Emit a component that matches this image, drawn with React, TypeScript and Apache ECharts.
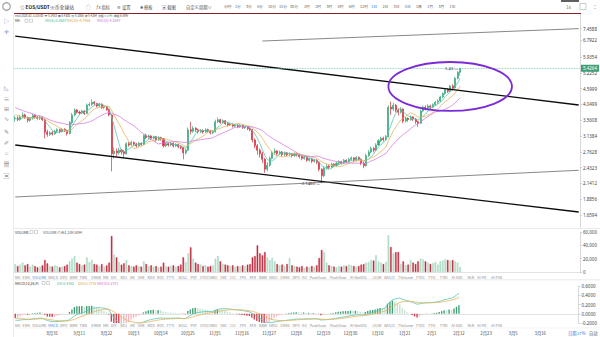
import React, { useEffect, useRef } from 'react';
import * as echarts from 'echarts';

// ---------------- data ----------------
const startDateUTC = Date.UTC(2019, 7, 16); // first candle: 2019-08-16
const categoryCount = 229; // data days + empty future days on the axis

const dateTickLabels = ['8月31', '9月11', '9月22', '10月3', '10月14', '10月25', '11月5', '11月16', '11月27', '12月8', '12月19', '12月30', '1月10', '1月21', '2月1', '2月12', '2月23', '3月5', '3月16'];

const priceTicks = [1.6594, 1.8856, 2.1412, 2.4323, 2.7628, 3.1384, 3.5608, 4.0499, 4.5999, 5.2252, 5.9354, 6.7922, 7.4588];
const priceAxisMin = 1.5064;
const priceAxisMax = 8.394;

// closes before the first visible candle (only feed MA / MACD)
const warmupCloses = [
  4.05, 4.0, 3.95, 4.05, 4.1, 4.2, 4.25, 4.15, 4.1, 4.2,
  4.3, 4.35, 4.25, 4.3, 4.2, 4.1, 4.05, 4.15, 4.1, 4.2,
  3.95, 4.0, 3.9, 3.85, 3.8, 3.7, 3.75, 3.65, 3.5, 3.6,
];

// [open, close, low, high]
const candles: number[][] = [
  [3.60, 3.62, 3.52, 3.70], [3.62, 3.58, 3.54, 3.68], [3.58, 3.66, 3.55, 3.72], [3.66, 3.72, 3.62, 3.80], [3.72, 3.64, 3.60, 3.76],
  [3.64, 3.56, 3.50, 3.67], [3.56, 3.62, 3.52, 3.66], [3.62, 3.70, 3.58, 3.75], [3.70, 3.66, 3.62, 3.74], [3.66, 3.62, 3.58, 3.69],
  [3.62, 3.65, 3.57, 3.70], [3.65, 3.58, 3.54, 3.68], [3.58, 3.24, 3.08, 3.60], [3.24, 3.18, 3.12, 3.30], [3.18, 3.22, 3.14, 3.26],
  [3.22, 3.19, 3.15, 3.27], [3.19, 3.26, 3.17, 3.30], [3.26, 3.30, 3.22, 3.34], [3.30, 3.25, 3.21, 3.33], [3.25, 3.31, 3.23, 3.35],
  [3.31, 3.28, 3.24, 3.34], [3.28, 3.20, 3.15, 3.30], [3.20, 3.50, 3.18, 3.54], [3.50, 3.72, 3.46, 3.78], [3.72, 3.87, 3.68, 3.92],
  [3.87, 3.80, 3.76, 3.90], [3.80, 3.78, 3.72, 3.85], [3.78, 3.84, 3.74, 3.88], [3.84, 3.76, 3.72, 3.87], [3.76, 4.03, 3.74, 4.08],
  [4.03, 4.05, 3.98, 4.12], [4.05, 4.12, 4.00, 4.22], [4.12, 4.08, 4.02, 4.16], [4.08, 4.00, 3.95, 4.10], [4.00, 4.06, 3.96, 4.10],
  [4.06, 3.95, 3.90, 4.08], [3.95, 3.98, 3.90, 4.02], [3.98, 3.88, 3.84, 4.00], [3.88, 3.72, 3.68, 3.90], [3.72, 2.72, 2.36, 3.74],
  [2.72, 2.78, 2.62, 2.86], [2.78, 2.74, 2.66, 2.84], [2.74, 2.80, 2.70, 2.85], [2.80, 2.76, 2.70, 2.83], [2.76, 2.72, 2.64, 2.80],
  [2.72, 2.95, 2.70, 2.98], [2.95, 2.92, 2.88, 2.99], [2.92, 2.98, 2.90, 3.02], [2.98, 2.94, 2.90, 3.00], [2.94, 2.90, 2.86, 2.97],
  [2.90, 2.96, 2.88, 2.99], [2.96, 2.93, 2.90, 2.98], [2.93, 3.15, 2.92, 3.18], [3.15, 3.10, 3.06, 3.20], [3.10, 3.14, 3.06, 3.18],
  [3.14, 3.08, 3.04, 3.16], [3.08, 3.12, 3.05, 3.15], [3.12, 3.04, 3.00, 3.14], [3.04, 3.10, 3.02, 3.13], [3.10, 3.07, 3.02, 3.12],
  [3.07, 2.90, 2.86, 3.09], [2.90, 2.95, 2.87, 2.98], [2.95, 2.92, 2.88, 2.97], [2.92, 2.96, 2.89, 2.99], [2.96, 2.90, 2.86, 2.98],
  [2.90, 2.93, 2.87, 2.96], [2.93, 2.88, 2.84, 2.95], [2.88, 2.86, 2.82, 2.91], [2.86, 2.74, 2.60, 2.88], [2.74, 2.80, 2.70, 2.84],
  [2.80, 3.30, 2.78, 3.36], [3.30, 3.26, 3.18, 3.52], [3.26, 3.34, 3.22, 3.40], [3.34, 3.30, 3.24, 3.37], [3.30, 3.25, 3.20, 3.33],
  [3.25, 3.28, 3.21, 3.32], [3.28, 3.24, 3.20, 3.31], [3.24, 3.30, 3.22, 3.34], [3.30, 3.27, 3.23, 3.33], [3.27, 3.22, 3.18, 3.30],
  [3.22, 3.25, 3.19, 3.29], [3.25, 3.52, 3.23, 3.58], [3.52, 3.58, 3.48, 3.64], [3.58, 3.50, 3.46, 3.61], [3.50, 3.55, 3.47, 3.59],
  [3.55, 3.47, 3.43, 3.57], [3.47, 3.43, 3.39, 3.50], [3.43, 3.45, 3.40, 3.49], [3.45, 3.40, 3.36, 3.47], [3.40, 3.43, 3.37, 3.46],
  [3.43, 3.38, 3.34, 3.45], [3.38, 3.42, 3.35, 3.45], [3.42, 3.36, 3.32, 3.44], [3.36, 3.38, 3.32, 3.41], [3.38, 3.33, 3.29, 3.40],
  [3.33, 3.30, 3.26, 3.36], [3.30, 3.04, 2.98, 3.32], [3.04, 2.90, 2.84, 3.08], [2.90, 2.80, 2.70, 2.94], [2.80, 2.72, 2.64, 2.84],
  [2.72, 2.60, 2.52, 2.76], [2.60, 2.40, 2.33, 2.63], [2.40, 2.48, 2.36, 2.54], [2.48, 2.62, 2.45, 2.66], [2.62, 2.74, 2.60, 2.78],
  [2.74, 2.78, 2.70, 2.84], [2.78, 2.72, 2.68, 2.80], [2.72, 2.76, 2.69, 2.79], [2.76, 2.70, 2.66, 2.78], [2.70, 2.74, 2.67, 2.77],
  [2.74, 2.70, 2.66, 2.76], [2.70, 2.72, 2.66, 2.75], [2.72, 2.68, 2.64, 2.74], [2.68, 2.72, 2.65, 2.75], [2.72, 2.70, 2.66, 2.74],
  [2.70, 2.66, 2.62, 2.72], [2.66, 2.62, 2.58, 2.68], [2.62, 2.65, 2.59, 2.68], [2.65, 2.58, 2.55, 2.67], [2.58, 2.61, 2.55, 2.64],
  [2.61, 2.56, 2.52, 2.63], [2.56, 2.58, 2.53, 2.61], [2.58, 2.54, 2.50, 2.60], [2.54, 2.40, 2.36, 2.56], [2.40, 2.28, 2.146, 2.42],
  [2.28, 2.42, 2.25, 2.46], [2.42, 2.46, 2.39, 2.50], [2.46, 2.44, 2.40, 2.49], [2.44, 2.50, 2.42, 2.53], [2.50, 2.47, 2.44, 2.52],
  [2.47, 2.52, 2.45, 2.55], [2.52, 2.55, 2.49, 2.58], [2.55, 2.52, 2.49, 2.57], [2.52, 2.58, 2.50, 2.61], [2.58, 2.55, 2.52, 2.60],
  [2.55, 2.60, 2.53, 2.63], [2.60, 2.63, 2.57, 2.66], [2.63, 2.58, 2.55, 2.65], [2.58, 2.64, 2.56, 2.67], [2.64, 2.60, 2.57, 2.66],
  [2.60, 2.52, 2.48, 2.62], [2.52, 2.47, 2.42, 2.55], [2.47, 2.68, 2.45, 2.72], [2.68, 2.76, 2.65, 2.80], [2.76, 2.84, 2.73, 2.88],
  [2.84, 2.80, 2.75, 2.87], [2.80, 2.92, 2.78, 2.96], [2.92, 3.02, 2.90, 3.06], [3.02, 3.08, 2.98, 3.12], [3.08, 3.05, 3.00, 3.12],
  [3.05, 3.12, 3.02, 3.16], [3.12, 3.96, 3.10, 4.02], [3.96, 3.90, 3.72, 4.14], [3.90, 4.02, 3.84, 4.10], [4.02, 3.86, 3.80, 4.06],
  [3.86, 3.80, 3.70, 3.92], [3.80, 3.90, 3.76, 3.96], [3.90, 3.54, 3.48, 3.92], [3.54, 3.62, 3.50, 3.66], [3.62, 3.58, 3.52, 3.65],
  [3.58, 3.66, 3.55, 3.70], [3.66, 3.60, 3.54, 3.68], [3.60, 3.52, 3.46, 3.63], [3.52, 3.48, 3.38, 3.55], [3.48, 3.84, 3.46, 3.88],
  [3.84, 3.96, 3.80, 4.00], [3.96, 3.92, 3.86, 4.02], [3.92, 4.00, 3.88, 4.05], [4.00, 3.96, 3.90, 4.04], [3.96, 4.04, 3.93, 4.08],
  [4.04, 4.12, 4.00, 4.16], [4.12, 4.16, 4.06, 4.22], [4.16, 4.30, 4.12, 4.34], [4.30, 4.42, 4.26, 4.46], [4.42, 4.56, 4.38, 4.60],
  [4.56, 4.50, 4.44, 4.62], [4.50, 4.70, 4.46, 4.74], [4.70, 4.62, 4.56, 4.76], [4.62, 5.00, 4.60, 5.06], [5.00, 5.2433, 4.96, 5.30],
  [5.2433, 5.4264, 5.1066, 5.43],
];

// volume in thousands
const volumes = [
  12000, 9000, 11000, 14000, 10000, 12000, 8000, 11000, 9000, 7000,
  8000, 10000, 18000, 13000, 9000, 8000, 10000, 9000, 7000, 8000,
  9000, 11000, 16000, 20000, 24000, 14000, 12000, 10000, 11000, 22000,
  15000, 18000, 12000, 11000, 9000, 12000, 8000, 10000, 14000, 54000,
  26000, 22000, 15000, 11000, 13000, 18000, 10000, 9000, 8000, 10000,
  9000, 8000, 16000, 12000, 9000, 10000, 8000, 9000, 7000, 8000,
  14000, 9000, 8000, 9000, 10000, 8000, 9000, 11000, 22000, 15000,
  28000, 37000, 20000, 14000, 12000, 11000, 9000, 10000, 8000, 9000,
  10000, 20000, 24000, 16000, 12000, 11000, 10000, 9000, 10000, 8000,
  9000, 8000, 10000, 9000, 11000, 12000, 22000, 24000, 40000, 28000,
  25000, 30000, 22000, 18000, 21000, 16000, 12000, 10000, 11000, 9000,
  12000, 21000, 10000, 9000, 8000, 7000, 9000, 6000, 8000, 7000,
  9000, 8000, 10000, 21000, 33000, 30000, 14000, 10000, 9000, 8000,
  7000, 9000, 8000, 10000, 9000, 11000, 10000, 9000, 8000, 9000,
  11000, 12000, 14000, 15000, 18000, 17000, 25000, 16000, 14000, 12000,
  15000, 55000, 37500, 28000, 30000, 30000, 12000, 16000, 10000, 11000,
  18000, 14000, 12000, 16000, 20000, 19000, 16000, 14000, 12000, 13000,
  15000, 11000, 16000, 17000, 19000, 18000, 17000, 18000, 16000, 14000, 7461,
];

// user-drawn trend lines: [categoryIndex, price] ends
const trendLineEnds = [
  { from: [0, 7.02], to: [228, 4.03], kind: 'thick' },
  { from: [0, 2.92], to: [228, 1.70], kind: 'thick' },
  { from: [100, 6.75], to: [228, 7.4588], kind: 'thin' },
  { from: [0, 1.919], to: [228, 2.38], kind: 'thin' },
];
// purple ellipse annotation bounds
const highlightZone = { fromIdx: 151, toIdx: 201, top: 5.7, bottom: 3.84 };

const infoLine = { time: '2020-02-11 08:00', open: '5.2433', high: '5.4300', low: '5.1066', close: '5.4264', change: '3.47%', amplitude: '6.68%' };
const maLabels = ['MA(5):5.0687', 'MA(10):4.7466', 'MA(20):4.3547'];
const volumeLabel = 'VOLUME:7,461,109.5894';
const macdLabels = ['DIF:0.4362', 'DEA:0.3736', 'MACD:0.2371'];

const minutePeriods = ['分时', '1分', '3分', '5分', '10分', '15分', '30分'];
const longPeriods = ['1时', '2时', '3时', '4时', '6时', '12时', '1日', '2日', '3日', '5日', '1周', '1月', '3月', '1年'];
const indicatorButtons = ['MA', 'EMA', 'VOLUME', 'MACD', 'DPO', 'BRM', 'TRIX', 'EMAB', 'MR', 'DIV', 'KDJ', 'AR', 'SAR', 'KDO', 'ROC', 'FTTI', 'BOLL', 'PSY', 'STOCHRSI', 'SRC', 'CCI', 'FPS', 'ATR', 'BBW', 'SKDJ', 'EMAS', 'DPO', 'AO', 'PushScan', 'PushSlow', 'AI-NetVOL', 'LSUR', 'BAS21', 'TVolume', 'FTD1', 'TTSI', 'TTRI', 'AI-EB1', 'RLR', 'AI-PD', 'AI-FOE'];

// ---------------- helpers ----------------
const FONT = '"Noto Sans CJK SC", "Noto Sans", sans-serif';
const UP = '#36a97a';
const DOWN = '#d6303f';

function buildCategories(): string[] {
  const out: string[] = [];
  for (let i = 0; i < categoryCount; i++) {
    const d = new Date(startDateUTC + i * 86400000);
    out.push(`${d.getUTCMonth() + 1}月${d.getUTCDate()}`);
  }
  return out;
}

function sma(arr: number[], n: number, offset: number) {
  const res: (number | null)[] = [];
  for (let i = offset; i < arr.length; i++) {
    if (i < n - 1) { res.push(null); continue; }
    let s = 0;
    for (let k = i - n + 1; k <= i; k++) s += arr[k];
    res.push(Math.log(s / n));
  }
  return res;
}

function ema(arr: number[], n: number) {
  const out: number[] = [];
  arr.forEach((v, i) => {
    out.push(i === 0 ? v : (2 * v + (n - 1) * out[i - 1]) / (n + 1));
  });
  return out;
}

export default function App() {
  const ref = useRef<HTMLDivElement>(null);

  useEffect(() => {
    if (!ref.current) return;
    const chart = echarts.init(ref.current, undefined, { renderer: 'svg' });

    const cats = buildCategories();
    const tickSet = new Set(dateTickLabels);
    const closes = candles.map((c) => c[1]);
    const allCloses = warmupCloses.concat(closes);
    const off = warmupCloses.length;

    const ma5 = sma(allCloses, 5, off);
    const ma10 = sma(allCloses, 10, off);
    const ma20 = sma(allCloses, 20, off);

    const e12 = ema(allCloses, 12);
    const e26 = ema(allCloses, 26);
    const difAll = e12.map((v, i) => v - e26[i]);
    const deaAll = ema(difAll, 9);
    const dif = difAll.slice(off);
    const dea = deaAll.slice(off);
    const hist = dif.map((v, i) => 2 * (v - dea[i]));

    const lnCandles = candles.map((c) => c.map((v) => Math.log(v)));
    const volData = volumes.map((v, i) => ({
      value: v,
      itemStyle: { color: candles[i][1] >= candles[i][0] ? '#bfe4d1' : '#c42a3e', borderColor: candles[i][1] >= candles[i][0] ? '#8fcfb0' : '#c42a3e', borderWidth: 0.4 },
    }));
    const histData = hist.map((v, i) => {
      const prev = i > 0 ? hist[i - 1] : 0;
      let color;
      if (v >= 0) color = v >= prev ? '#3f9d72' : '#bfe3cf';
      else color = v <= prev ? '#d23a4c' : '#f2b8c2';
      return { value: v, itemStyle: { color } };
    });

    let hiIdx = 0, loIdx = 0;
    candles.forEach((c, i) => {
      if (c[3] > candles[hiIdx][3]) hiIdx = i;
      if (c[2] < candles[loIdx][2]) loIdx = i;
    });
    const last = candles[candles.length - 1];
    const lastVol = volumes[volumes.length - 1];

    const priceTickLn = priceTicks.map((p) => Math.log(p));
    const priceFmt = (v: number) => {
      let best = 0;
      priceTickLn.forEach((t, i) => { if (Math.abs(t - v) < Math.abs(priceTickLn[best] - v)) best = i; });
      return priceTicks[best].toFixed(4);
    };

    const gridL = 14, gridR = 19;
    const axisLabelBase = { fontSize: 4.5, color: '#444', fontFamily: 'Noto Sans', margin: 3 };

    const trendMark = trendLineEnds.map((t) => [
      {
        coord: [t.from[0], Math.log(t.from[1])],
        lineStyle: t.kind === 'thick' ? { color: '#0c0c0c', width: 1.4, type: 'solid' } : { color: '#6a6a6a', width: 0.8, type: 'solid' },
        label: { show: false },
      },
      { coord: [t.to[0], Math.log(t.to[1])] },
    ]);

    const option: any = {
      animation: false,
      backgroundColor: '#ffffff',
      grid: [
        { left: gridL, right: gridR, top: 14, height: 213 },
        { left: gridL, right: gridR, top: 232, height: 40 },
        { left: gridL, right: gridR, top: 286, height: 37 },
      ],
      xAxis: [0, 1, 2].map((g) => ({
        gridIndex: g,
        type: 'category',
        data: cats,
        boundaryGap: true,
        axisLine: { show: g !== 0, lineStyle: { color: '#dcdcdc', width: 0.8 } },
        axisTick: { show: false },
        splitLine: { show: false },
        axisLabel: g === 2
          ? { show: true, interval: (_i: number, v: string) => tickSet.has(v), fontSize: 4.3, color: '#444', fontFamily: FONT, margin: 8 }
          : { show: false },
      })),
      yAxis: [
        {
          gridIndex: 0, type: 'value', position: 'right', min: Math.log(priceAxisMin), max: Math.log(priceAxisMax), scale: true,
          axisLine: { show: true, lineStyle: { color: '#cfcfcf', width: 0.8 } },
          axisTick: { show: true, length: 2, lineStyle: { color: '#cfcfcf' }, customValues: priceTickLn },
          splitLine: { show: false },
          axisLabel: { ...axisLabelBase, customValues: priceTickLn, formatter: priceFmt },
        },
        {
          gridIndex: 1, type: 'value', position: 'right', min: 0, max: 60000, interval: 20000,
          axisLine: { show: true, lineStyle: { color: '#cfcfcf', width: 0.8 } },
          axisTick: { show: true, length: 2, lineStyle: { color: '#cfcfcf' } },
          splitLine: { show: false },
          axisLabel: { ...axisLabelBase, formatter: (v: number) => v.toLocaleString('en-US') },
        },
        {
          gridIndex: 2, type: 'value', position: 'right', min: -0.2, max: 0.6, interval: 0.2,
          axisLine: { show: true, lineStyle: { color: '#cfcfcf', width: 0.8 } },
          axisTick: { show: true, length: 2, lineStyle: { color: '#cfcfcf' } },
          splitLine: { show: false },
          axisLabel: { ...axisLabelBase, formatter: (v: number) => v.toFixed(4) },
        },
      ],
      series: [
        {
          type: 'candlestick', xAxisIndex: 0, yAxisIndex: 0, data: lnCandles, barWidth: '62%',
          itemStyle: { color: UP, color0: DOWN, borderColor: UP, borderColor0: DOWN, borderWidth: 0.7 },
          markLine: {
            silent: true, symbol: ['none', 'none'], animation: false,
            label: { show: false },
            data: [
              ...trendMark,
              {
                yAxis: Math.log(last[1]),
                lineStyle: { color: '#6cc3a8', width: 0.8, type: 'dotted' },
                label: {
                  show: true, position: 'end', formatter: last[1].toFixed(4), distance: 1,
                  backgroundColor: '#3f9f78', color: '#fff', fontSize: 4.5, padding: [1, 2], fontFamily: 'Noto Sans',
                },
              },
            ],
          },
          markPoint: {
            silent: true, symbol: 'circle', symbolSize: 1, itemStyle: { color: 'rgba(0,0,0,0)' },
            data: [
              { coord: [hiIdx, Math.log(candles[hiIdx][3])], label: { show: true, position: 'left', distance: 1, formatter: `${candles[hiIdx][3].toFixed(2)} —`, fontSize: 4.2, color: '#333', fontFamily: 'Noto Sans' } },
              { coord: [loIdx, Math.log(candles[loIdx][2])], label: { show: true, position: 'left', distance: 1, formatter: `${candles[loIdx][2].toFixed(4)} —`, fontSize: 4.2, color: '#333', fontFamily: 'Noto Sans' } },
            ],
          },
        },
        { type: 'line', xAxisIndex: 0, yAxisIndex: 0, data: ma5, showSymbol: false, lineStyle: { color: '#5cc4b3', width: 0.8 } },
        { type: 'line', xAxisIndex: 0, yAxisIndex: 0, data: ma10, showSymbol: false, lineStyle: { color: '#e9b35c', width: 0.8 } },
        { type: 'line', xAxisIndex: 0, yAxisIndex: 0, data: ma20, showSymbol: false, lineStyle: { color: '#d57ee0', width: 0.8 } },
        {
          type: 'bar', xAxisIndex: 1, yAxisIndex: 1, data: volData, barWidth: '62%',
          markLine: {
            silent: true, symbol: ['none', 'none'],
            data: [{
              yAxis: lastVol, lineStyle: { opacity: 0 },
              label: { show: true, position: 'end', distance: 1, formatter: lastVol.toLocaleString('en-US'), backgroundColor: '#f2a93b', color: '#fff', fontSize: 4.5, padding: [1, 3], fontFamily: 'Noto Sans' },
            }],
          },
        },
        { type: 'bar', xAxisIndex: 2, yAxisIndex: 2, data: histData, barWidth: '55%' },
        { type: 'line', xAxisIndex: 2, yAxisIndex: 2, data: dif, showSymbol: false, lineStyle: { color: '#5cc4b3', width: 0.8 } },
        { type: 'line', xAxisIndex: 2, yAxisIndex: 2, data: dea, showSymbol: false, lineStyle: { color: '#e9b35c', width: 0.8 } },
      ],
    };

    chart.setOption(option);

    // ---------- graphic overlay ----------
    const G: any[] = [];
    const txt = (text: string, x: number, y: number, o: any = {}) => {
      G.push({
        type: 'text', x, y, silent: true, z: 100,
        style: {
          text, fill: o.c || '#555', fontSize: o.s || 4, fontFamily: FONT, fontWeight: o.w || 'normal',
          align: o.a || 'left', verticalAlign: 'middle', rich: o.rich,
        },
      });
    };
    const line = (x1: number, y1: number, x2: number, y2: number, color: string, w = 1) => {
      G.push({ type: 'line', silent: true, z: 90, shape: { x1, y1, x2, y2 }, style: { stroke: color, lineWidth: w } });
    };
    const box = (x: number, y: number, w: number, h: number, stroke: string, fill = 'none') => {
      G.push({ type: 'rect', silent: true, z: 100, shape: { x, y, width: w, height: h }, style: { stroke, fill, lineWidth: 0.5 } });
    };

    // top toolbar
    G.push({ type: 'circle', silent: true, shape: { cx: 6.5, cy: 6.5, r: 3.8 }, style: { stroke: '#9a9a9a', fill: 'none', lineWidth: 1.1 } });
    txt('☆', 20, 6.5, { s: 5, c: '#777' });
    txt('EOS/USDT', 25.5, 6.5, { s: 4.8, c: '#222', w: 'bold' });
    txt('火币全球站', 50, 6.5, { s: 4.8, c: '#333' });
    txt('○', 86, 6.5, { s: 4.5, c: '#777' });
    txt('ƒx 指标', 96, 6.5, { s: 4.3, c: '#555' });
    txt('⚙ 设置', 117, 6.5, { s: 4.3, c: '#555' });
    txt('✱ 模板', 140, 6.5, { s: 4.3, c: '#555' });
    txt('▣ 截图', 162, 6.5, { s: 4.3, c: '#555' });
    txt('自定义周期∨', 186, 6.5, { s: 4.3, c: '#555' });
    minutePeriods.forEach((p, i) => txt(p, 224 + i * 11, 6.5, { s: 3.8, c: '#666' }));
    longPeriods.forEach((p, i) => txt(p, 304 + i * 11.2, 6.5, { s: 3.8, c: p === '1日' ? '#2f7be0' : '#666' }));
    G.push({ type: 'rect', silent: true, shape: { x: 561, y: 0, width: 18, height: 2 }, style: { fill: '#606060' } });
    txt('1⁄s', 566, 6.5, { s: 4.3, c: '#777' });
    box(580, 3.5, 6, 6, '#999');
    txt('⁚⁚', 594, 6.5, { s: 5, c: '#666' });
    line(14, 13.5, 581, 13.5, '#8a1d25', 1);

    // left tool column
    line(13.5, 14, 13.5, 337, '#e6e6e6', 0.8);
    const icons = ['▷', '✛', '◺', '≡', '⊞', '∿', '✎', '✐', '⌂', '卌', '▣'];
    const iconY = [20, 31, 87, 98, 108, 118, 131, 142, 152, 163, 175];
    icons.forEach((g, i) => txt(g, 6.5, iconY[i], { s: 6, c: i === 1 ? '#6b8fd3' : '#8a8a8a', a: 'center' }));

    // info lines
    txt(`时间:${infoLine.time}  开:${infoLine.open}  高:${infoLine.high}  低:${infoLine.low}  收:${infoLine.close}  涨幅:{g|${infoLine.change}}  振幅:${infoLine.amplitude}`, 15, 15.6,
      { s: 2.8, c: '#444', rich: { g: { fill: '#2f9e6e', fontSize: 2.8, fontFamily: FONT } } });
    txt('MA', 15, 20.8, { s: 3.5, c: '#333' });
    box(25, 19.3, 3, 3, '#aaa');
    box(29.5, 19.3, 3, 3, '#aaa');
    const maColors = ['#3fb8a4', '#e0a53c', '#cc6fd8'];
    const maX = [45, 67, 97];
    maLabels.forEach((l, i) => txt(l, maX[i], 20.8, { s: 3.6, c: maColors[i] }));

    // volume panel
    line(14, 228.5, 600, 228.5, '#e3e3e3', 0.8);
    txt('VOLUME', 15, 232, { s: 3.5, c: '#333' });
    box(30, 230.5, 3, 3, '#aaa');
    box(34.5, 230.5, 3, 3, '#aaa');
    txt(volumeLabel, 43, 232, { s: 3.5, c: '#555' });

    // indicator button rows
    let chars = 0;
    const btnX: number[] = [];
    indicatorButtons.forEach((b, i) => { btnX.push(15 + chars * 2.1 + i * 3.4); chars += b.length; });
    indicatorButtons.forEach((b, i) => {
      txt(b, btnX[i], 277, { s: 3.6, c: b === 'VOLUME' ? '#3d7fd6' : '#888' });
      txt(b, btnX[i], 325.5, { s: 3.6, c: b === 'MACD' && i === 3 ? '#3d7fd6' : '#888' });
    });
    line(14, 279.8, 600, 279.8, '#e3e3e3', 0.8);

    // MACD panel label
    txt('MACD(12,26,9)', 15, 283, { s: 3.5, c: '#333' });
    box(42, 281.5, 3, 3, '#aaa');
    box(46.5, 281.5, 3, 3, '#aaa');
    const macdColors = ['#3fb8a4', '#e0a53c', '#d06ad0'];
    const macdX = [57, 78, 97];
    macdLabels.forEach((l, i) => txt(l, macdX[i], 283, { s: 3.5, c: macdColors[i] }));
    line(14, 328, 600, 328, '#ececec', 0.6);

    // bottom right
    txt('日期', 568, 332.5, { s: 4.2, c: '#2f7be0' });
    txt('27%', 577, 332.5, { s: 4.2, c: '#2f7be0' });
    txt('自动', 589, 332.5, { s: 4.2, c: '#555' });

    // purple ellipse from data coordinates
    const p1 = chart.convertToPixel({ xAxisIndex: 0, yAxisIndex: 0 } as any, [highlightZone.fromIdx, Math.log(highlightZone.top)]) as number[];
    const p2 = chart.convertToPixel({ xAxisIndex: 0, yAxisIndex: 0 } as any, [highlightZone.toIdx, Math.log(highlightZone.bottom)]) as number[];
    if (p1 && p2) {
      G.push({
        type: 'ellipse', silent: true, z: 95,
        shape: { cx: (p1[0] + p2[0]) / 2, cy: (p1[1] + p2[1]) / 2, rx: Math.abs(p2[0] - p1[0]) / 2, ry: Math.abs(p2[1] - p1[1]) / 2 },
        style: { fill: 'none', stroke: '#7a2bd6', lineWidth: 1.8 },
      });
    }

    chart.setOption({ graphic: G });

    return () => chart.dispose();
  }, []);

  return <div ref={ref} style={{ position: 'fixed', left: 0, top: 0, width: 600, height: 337, background: '#fff' }} />;
}
